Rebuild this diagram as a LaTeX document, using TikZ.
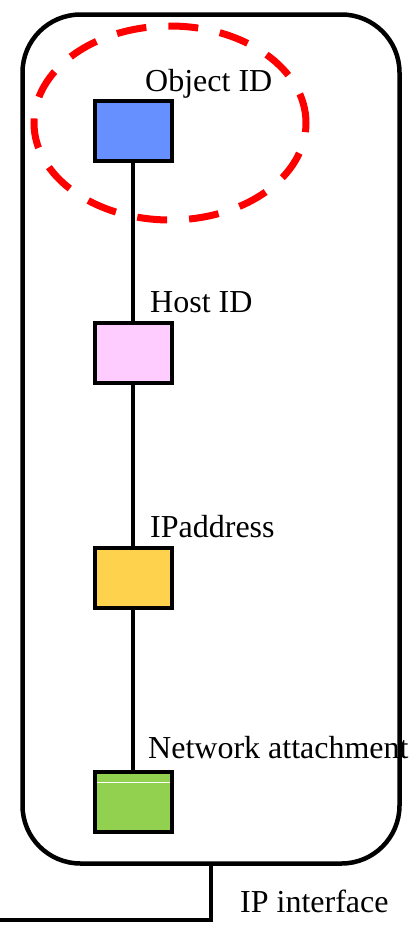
\documentclass[tikz,border=0pt]{standalone}
\usepackage{fontspec}
\setmainfont{Liberation Serif}
\begin{document}
\begin{tikzpicture}[x=1pt,y=-1pt,
  idbox/.style={draw=black,line width=4pt,minimum width=77pt,minimum height=60pt,inner sep=0pt},
  lbl/.style={anchor=base west,inner sep=0pt,font=\fontsize{32}{38}\selectfont},
  wire/.style={line width=4pt}]
  % canvas
  \useasboundingbox (0,0) rectangle (410,926);
  % outer host frame
  \node[draw=black,line width=4.5pt,rounded corners=58pt,minimum width=377pt,minimum height=849pt,inner sep=0pt] (frame) at (211,439) {};
  % identifier layers
  \node[idbox,fill={rgb,255:red,102;green,143;blue,255}] (obj) at (133,131) {};
  \node[idbox,fill={rgb,255:red,255;green,204;blue,255}] (host) at (133,353) {};
  \node[idbox,fill={rgb,255:red,255;green,210;blue,77}] (ipa) at (133,578) {};
  \node[idbox,fill={rgb,255:red,146;green,208;blue,80}] (net) at (133,802) {};
  \draw[white,line width=1pt] ([xshift=4pt,yshift=-12pt]net.north west) -- ([xshift=-4pt,yshift=-12pt]net.north east);
  % binding chain
  \draw[wire] (obj) -- (host) -- (ipa) -- (net);
  % labels
  \node[lbl] (tobj) at (145,91) {Object ID};
  \node[lbl] (thost) at (150,312) {Host ID};
  \node[lbl] (tip) at (150,537) {IPaddress};
  \node[lbl] (tnet) at (148,758) {Network attachment};
  % interface leg
  \coordinate (ifend) at (0,920);
  \draw[wire] (frame.south) |- (ifend);
  \node[lbl] (tif) at (240,912) {IP interface};
  % highlight around the object identifier
  \draw[red,line width=7pt,dash pattern=on 30pt off 22pt] (170,123) ellipse [x radius=136pt,y radius=97pt];
\end{tikzpicture}
\end{document}
